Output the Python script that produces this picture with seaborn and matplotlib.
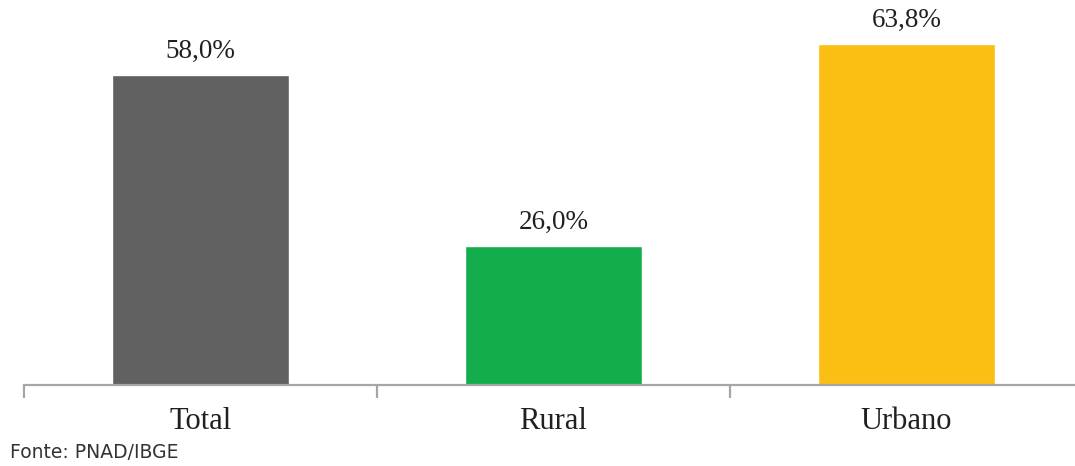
import matplotlib
matplotlib.use("Agg")
import matplotlib.pyplot as plt
import seaborn as sns
import pandas as pd

categories = ["Total", "Rural", "Urbano"]
values = [58.0, 26.0, 63.8]
colors = ["#616161", "#13AE4B", "#FBBF13"]
source = "Fonte: PNAD/IBGE"

sns.set_theme(style="white")
plt.rcParams["font.family"] = ["Liberation Serif", "DejaVu Serif"]

df = pd.DataFrame({"categoria": categories, "valor": values})

W, H = 1075, 466
fig = plt.figure(figsize=(W / 100, H / 100), dpi=100)
ax = fig.add_axes([24 / W, 81 / H, (W - 24) / W, (H - 81) / H])

sns.barplot(data=df, x="categoria", y="valor", hue="categoria",
            palette=colors, width=0.5, saturation=1, legend=False, ax=ax)

slot = 353.0
ax.set_xlim(-0.5, -0.5 + (W - 24) / slot)
ax.set_ylim(0, 385 / 5.345)

for cont in ax.containers:
    ax.bar_label(cont, labels=[f"{b.get_height():.1f}%".replace(".", ",") for b in cont],
                 padding=8, fontsize=19.5, color="#231F20")

# category separators on the baseline
ax.set_xticks([-0.5, 0.5, 1.5], minor=False)
ax.set_xticklabels([])
ax.set_xticks([0, 1, 2], minor=True)
ax.set_xticklabels(categories, minor=True, fontsize=22, color="#231F20")
ax.tick_params(axis="x", which="major", length=9, width=1.6, color="#A6A6A6",
               direction="out", bottom=True)
ax.tick_params(axis="x", which="minor", length=0, pad=16)
ax.set_yticks([])
ax.set_xlabel("")
ax.set_ylabel("")

for side in ["top", "right", "left"]:
    ax.spines[side].set_visible(False)
ax.spines["bottom"].set_color("#A6A6A6")
ax.spines["bottom"].set_linewidth(1.6)

fig.text(10 / W, 4 / H, source, fontsize=13.5, color="#333333",
         family=["DejaVu Sans"], ha="left", va="bottom")

fig.savefig("out.png", dpi=100)
